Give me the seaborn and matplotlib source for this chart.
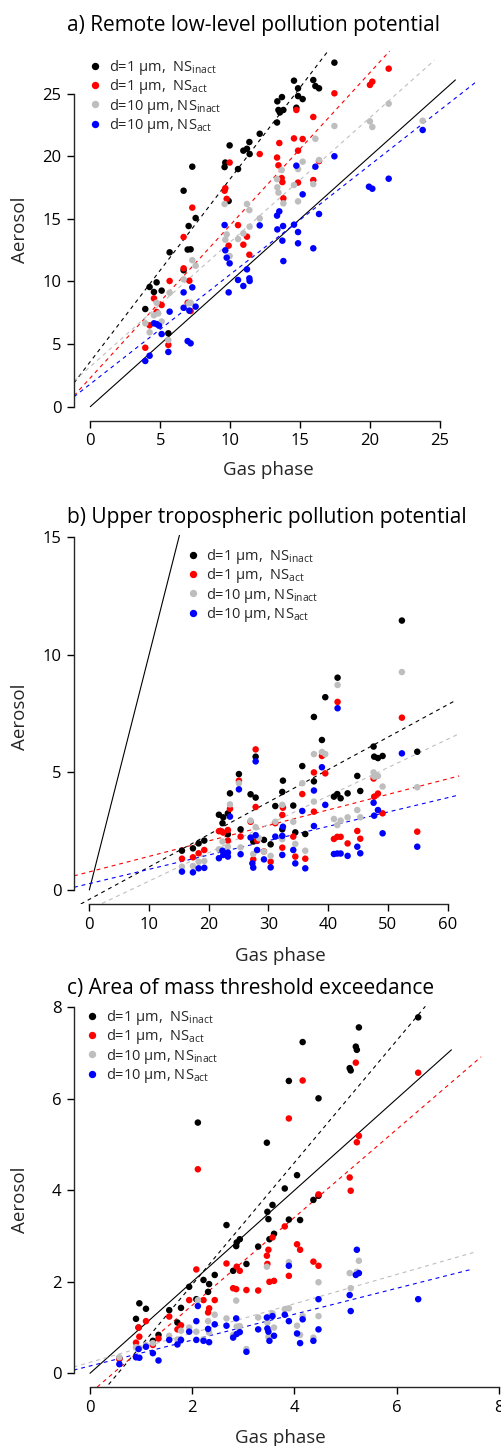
import numpy as np
import pandas as pd
import matplotlib
matplotlib.use("Agg")
import matplotlib.pyplot as plt
import seaborn as sns
from matplotlib.lines import Line2D

# ---------------- data ----------------
SERIES = ["d=1 µm,  NS$_{inact}$", "d=1 µm,  NS$_{act}$",
          "d=10 µm, NS$_{inact}$", "d=10 µm, NS$_{act}$"]
COLORS = ["#000000", "#FF0000", "#BEBEBE", "#0000FF"]

# panel a
A_BLACK_X = [3.93, 4.24, 4.55, 4.74, 5.10, 5.58, 5.67, 6.67, 6.67, 7.03, 6.96, 7.17, 7.29, 7.53, 9.60, 9.65, 9.89, 9.96, 10.56, 10.94, 11.20, 11.37, 11.39, 12.11, 13.35, 13.37, 13.45, 13.55, 13.70, 13.80, 14.56, 14.73, 14.85, 14.85, 15.18, 15.94, 16.09, 16.35, 17.45]
A_BLACK_Y = [7.80, 9.56, 9.16, 9.93, 9.27, 5.86, 12.33, 17.25, 10.90, 14.43, 12.55, 12.57, 19.17, 15.07, 19.14, 19.50, 16.43, 20.87, 18.98, 20.45, 20.60, 21.14, 20.18, 21.80, 22.70, 24.39, 23.70, 23.50, 24.73, 23.70, 26.04, 23.88, 25.43, 24.81, 24.57, 26.09, 25.61, 25.43, 27.48]
A_RED_X = [3.93, 4.24, 4.55, 4.74, 5.10, 5.58, 5.67, 6.67, 6.67, 7.08, 6.96, 7.29, 7.17, 9.60, 9.65, 9.75, 9.96, 9.89, 10.56, 10.94, 11.20, 11.37, 12.11, 13.35, 13.51, 13.45, 13.68, 13.73, 13.80, 14.56, 14.73, 14.85, 14.85, 15.18, 15.94, 15.94, 16.35, 17.45, 19.99, 20.16, 21.33]
A_RED_Y = [4.71, 6.50, 8.65, 7.56, 8.12, 4.93, 10.04, 13.55, 11.05, 10.06, 8.30, 15.90, 7.64, 17.25, 17.45, 16.60, 19.50, 12.86, 14.50, 12.94, 13.58, 12.14, 20.18, 19.90, 21.06, 19.28, 18.26, 17.94, 16.64, 21.43, 23.70, 20.45, 17.90, 21.38, 23.14, 18.10, 19.62, 25.03, 25.70, 25.96, 27.00]
A_GRAY_X = [3.93, 4.24, 4.55, 4.74, 4.86, 5.10, 5.58, 5.67, 6.67, 7.03, 7.17, 7.29, 7.53, 9.60, 9.75, 9.65, 9.96, 10.56, 10.94, 11.20, 11.37, 11.39, 12.11, 13.35, 13.37, 13.45, 13.68, 13.80, 14.56, 14.85, 14.85, 15.18, 15.94, 16.09, 16.35, 17.45, 19.99, 20.16, 21.33, 23.76]
A_GRAY_Y = [6.66, 5.94, 7.30, 8.30, 7.45, 6.80, 5.32, 9.10, 10.17, 8.25, 8.30, 11.70, 11.26, 16.19, 13.76, 13.34, 12.03, 13.39, 13.84, 16.19, 15.70, 14.38, 15.04, 18.18, 17.52, 17.10, 18.90, 16.24, 17.70, 18.98, 16.40, 19.57, 17.78, 21.40, 19.70, 22.42, 22.79, 22.34, 24.20, 22.84]
A_BLUE_X = [3.93, 4.24, 4.55, 4.74, 4.91, 5.10, 5.58, 5.67, 6.67, 6.67, 6.96, 7.17, 7.08, 7.29, 7.53, 9.60, 9.65, 9.75, 9.96, 9.89, 10.56, 10.94, 11.20, 11.37, 11.39, 12.11, 13.35, 13.37, 13.51, 13.73, 13.80, 13.78, 14.56, 14.73, 14.85, 14.85, 15.18, 15.94, 16.09, 16.35, 17.45, 19.92, 20.16, 21.33, 23.76]
A_BLUE_Y = [3.65, 4.07, 6.66, 6.60, 6.47, 5.80, 4.37, 7.59, 9.13, 7.90, 5.24, 5.06, 7.67, 9.53, 7.99, 14.51, 12.49, 11.90, 11.45, 9.13, 10.12, 9.64, 10.97, 10.25, 10.04, 14.48, 15.26, 14.16, 15.60, 13.26, 11.63, 14.43, 14.54, 19.25, 13.95, 13.05, 16.96, 12.65, 19.17, 15.39, 20.00, 17.57, 17.41, 18.21, 22.10]
# fitted lines: intercept, slope, x from, x to
A_FIT_INT = [3.6, 2.3, 3.2, 1.81]
A_FIT_SLOPE = [1.46, 1.22, 0.995, 0.875]
A_FIT_X0 = [-1.17, -1.17, -1.17, -1.17]
A_FIT_X1 = [17.0, 21.4, 24.6, 27.5]
A_ONE_TO_ONE = [0.0, 26.1]

# panel b
B_BLACK_X = [15.51, 17.35, 18.30, 19.25, 21.70, 22.43, 22.30, 23.20, 23.20, 23.55, 25.05, 25.33, 27.00, 27.45, 27.85, 27.85, 29.24, 30.36, 31.14, 32.31, 32.42, 32.31, 34.15, 34.49, 35.66, 36.16, 37.61, 37.61, 38.95, 39.51, 40.96, 41.52, 41.57, 42.08, 43.25, 44.87, 45.37, 47.60, 47.70, 48.33, 49.11, 52.34, 54.91]
B_BLACK_Y = [1.67, 1.77, 1.98, 2.10, 3.20, 3.09, 2.84, 3.26, 2.37, 4.11, 4.93, 2.58, 4.07, 2.06, 3.93, 5.67, 2.13, 1.94, 3.57, 4.17, 4.65, 2.58, 3.59, 2.45, 5.27, 2.38, 4.62, 7.36, 6.38, 8.20, 3.97, 4.08, 9.03, 3.90, 4.11, 4.85, 4.21, 6.10, 5.67, 5.61, 5.70, 11.46, 5.88]
B_RED_X = [15.51, 17.35, 18.30, 19.25, 21.70, 22.10, 22.43, 23.20, 23.20, 23.55, 25.05, 25.33, 27.00, 27.45, 27.85, 27.85, 28.10, 29.24, 30.36, 31.14, 32.31, 32.42, 32.31, 34.15, 34.49, 35.66, 36.16, 37.61, 37.61, 38.95, 39.51, 40.96, 41.52, 41.57, 42.08, 43.25, 44.87, 45.37, 47.60, 47.70, 48.33, 49.11, 52.34, 54.91]
B_RED_Y = [1.33, 1.39, 1.56, 1.70, 2.50, 2.50, 2.44, 2.55, 2.10, 3.45, 4.65, 2.27, 2.90, 1.30, 5.98, 3.53, 2.10, 1.64, 1.20, 2.84, 3.19, 3.50, 1.80, 2.27, 1.42, 4.08, 1.33, 5.00, 3.33, 5.70, 4.96, 2.17, 2.26, 8.00, 2.26, 1.98, 2.51, 2.18, 4.74, 3.97, 4.10, 3.26, 7.33, 2.48]
B_GRAY_X = [15.51, 17.35, 18.30, 19.25, 21.70, 22.30, 23.20, 23.55, 25.05, 25.33, 27.00, 27.45, 27.85, 28.40, 29.24, 30.36, 31.14, 32.31, 32.31, 34.15, 34.49, 35.66, 36.16, 37.61, 37.61, 38.95, 39.51, 40.96, 41.52, 41.57, 42.08, 43.25, 44.87, 45.37, 47.60, 47.70, 48.33, 49.11, 52.34, 54.91]
B_GRAY_Y = [0.99, 1.02, 1.20, 1.23, 1.73, 2.06, 1.84, 3.64, 4.54, 1.81, 2.95, 1.53, 2.67, 2.20, 1.63, 1.45, 2.90, 3.62, 2.16, 2.90, 1.96, 4.54, 1.67, 5.78, 3.76, 5.87, 5.78, 3.02, 2.76, 8.72, 2.95, 3.09, 3.40, 3.09, 5.00, 4.82, 4.85, 4.40, 9.27, 4.37]
B_BLUE_X = [15.51, 17.35, 18.30, 19.25, 21.70, 22.30, 22.43, 23.20, 23.20, 23.55, 25.05, 25.33, 27.00, 27.30, 27.45, 27.85, 27.85, 28.10, 29.24, 30.36, 31.14, 32.31, 32.42, 32.31, 34.15, 34.49, 35.66, 36.16, 37.61, 37.61, 38.95, 39.51, 40.96, 41.52, 42.08, 41.57, 43.25, 44.87, 45.37, 47.60, 47.70, 48.33, 49.11, 52.34, 54.91]
B_BLUE_Y = [0.78, 0.75, 0.92, 0.94, 1.35, 1.67, 1.49, 1.59, 1.42, 3.12, 4.28, 1.52, 2.23, 1.13, 0.95, 5.47, 2.33, 1.70, 1.30, 0.96, 2.27, 2.30, 2.69, 1.49, 1.70, 1.13, 3.36, 0.92, 4.23, 2.72, 5.22, 3.62, 1.53, 1.55, 1.55, 7.73, 1.45, 1.84, 1.56, 3.71, 3.16, 3.40, 2.41, 5.81, 1.84]
B_FIT_INT = [-0.40, 0.77, -0.83, 0.27]
B_FIT_SLOPE = [0.138, 0.0659, 0.1207, 0.0609]
B_FIT_X0 = [-2.57, -2.57, -2.57, -2.57]
B_FIT_X1 = [61.05, 61.94, 62.05, 61.94]
B_ONE_TO_ONE = [0.0, 15.2]

# panel c
C_BLACK_X = [0.574, 0.90, 0.965, 0.95, 1.095, 1.23, 1.34, 1.55, 1.71, 1.78, 1.94, 2.11, 2.08, 2.22, 2.31, 2.33, 2.44, 2.67, 2.80, 2.86, 2.87, 2.93, 3.06, 3.29, 3.46, 3.47, 3.49, 3.51, 3.57, 3.60, 3.81, 3.89, 3.89, 4.05, 4.11, 4.16, 4.37, 4.47, 4.47, 5.08, 5.10, 5.20, 5.22, 5.26, 6.42]
C_BLACK_Y = [0.33, 1.19, 1.53, 1.00, 1.41, 0.71, 0.84, 1.38, 1.11, 1.43, 1.89, 5.48, 1.62, 2.04, 1.78, 1.95, 2.15, 3.24, 2.24, 2.78, 2.86, 2.93, 2.39, 2.77, 5.04, 3.53, 3.37, 2.93, 3.68, 3.05, 4.04, 3.36, 6.39, 4.33, 3.35, 7.24, 3.79, 3.88, 6.01, 6.67, 6.62, 7.14, 7.07, 7.56, 7.78]
C_RED_X = [0.574, 0.90, 0.95, 0.965, 1.095, 1.23, 1.34, 1.55, 1.71, 1.78, 1.94, 2.08, 2.11, 2.22, 2.31, 2.33, 2.44, 2.67, 2.80, 2.86, 2.87, 2.93, 3.06, 3.29, 3.46, 3.47, 3.49, 3.51, 3.57, 3.60, 3.81, 3.89, 3.89, 4.05, 4.11, 4.16, 4.37, 4.47, 4.47, 5.08, 5.10, 5.20, 5.22, 5.26, 6.42]
C_RED_Y = [0.31, 0.67, 1.00, 0.80, 1.14, 0.62, 0.76, 1.24, 0.96, 1.05, 1.60, 2.27, 4.46, 1.60, 1.33, 1.42, 1.60, 2.40, 1.86, 1.84, 2.33, 2.24, 1.82, 1.81, 2.57, 2.39, 2.70, 2.00, 2.97, 2.02, 3.21, 5.57, 2.13, 2.82, 2.70, 6.40, 2.44, 3.91, 2.35, 4.28, 3.99, 6.79, 5.05, 5.19, 6.57]
C_GRAY_X = [0.574, 0.90, 0.965, 1.095, 1.23, 1.55, 1.71, 1.78, 1.94, 2.08, 2.11, 2.22, 2.31, 2.33, 2.44, 2.67, 2.80, 2.86, 2.87, 2.93, 3.06, 3.29, 3.46, 3.47, 3.49, 3.51, 3.57, 3.60, 3.81, 3.89, 3.89, 4.05, 4.11, 4.16, 4.37, 4.47, 4.47, 5.08, 5.10, 5.22, 5.26]
C_GRAY_Y = [0.35, 0.57, 0.55, 0.62, 0.66, 0.82, 0.74, 0.93, 1.00, 0.91, 1.60, 0.74, 1.14, 0.89, 1.28, 1.20, 0.84, 1.59, 1.02, 1.03, 0.53, 1.22, 2.33, 1.11, 0.80, 1.24, 1.31, 1.00, 1.40, 2.43, 1.42, 1.04, 0.84, 1.25, 0.78, 1.99, 1.25, 2.19, 1.86, 2.22, 2.46]
C_BLUE_X = [0.574, 0.90, 0.95, 0.965, 1.095, 1.23, 1.34, 1.55, 1.71, 1.78, 1.94, 2.08, 2.11, 2.08, 2.22, 2.31, 2.33, 2.44, 2.67, 2.80, 2.86, 2.87, 2.93, 3.06, 3.29, 3.46, 3.47, 3.49, 3.51, 3.57, 3.60, 3.81, 3.89, 3.89, 4.05, 4.11, 4.16, 4.37, 4.47, 4.47, 5.08, 5.10, 5.20, 5.22, 5.26, 6.42]
C_BLUE_Y = [0.20, 0.35, 0.53, 0.34, 0.58, 0.44, 0.28, 0.73, 0.63, 0.73, 0.91, 1.14, 1.47, 0.73, 0.71, 0.97, 0.68, 1.07, 1.04, 0.78, 1.20, 0.86, 0.90, 0.47, 0.96, 1.22, 0.98, 0.91, 0.71, 1.25, 0.82, 1.28, 2.35, 1.14, 0.87, 0.66, 1.18, 0.71, 1.62, 0.96, 1.71, 1.36, 2.15, 2.70, 2.19, 1.62]
C_FIT_INT = [-0.73, -0.435, 0.24, 0.16]
C_FIT_SLOPE = [1.334, 0.961, 0.32, 0.283]
C_FIT_X0 = [-0.32, -0.32, -0.32, -0.32]
C_FIT_X1 = [6.56, 7.65, 7.50, 7.46]
C_ONE_TO_ONE = [0.0, 7.07]

TITLES = ["a) Remote low-level pollution potential",
          "b) Upper tropospheric pollution potential",
          "c) Area of mass threshold exceedance"]
XLABEL = "Gas phase"
YLABEL = "Aerosol"
A_TICKS = [0, 5, 10, 15, 20, 25]
B_XTICKS = [0, 10, 20, 30, 40, 50, 60]
B_YTICKS = [0, 5, 10, 15]
C_TICKS = [0, 2, 4, 6, 8]

# ---------------- style ----------------
sns.set_theme(style="ticks")
plt.rcParams["font.family"] = ["Open Sans", "DejaVu Sans"]
plt.rcParams["mathtext.default"] = "regular"
plt.rcParams["axes.linewidth"] = 1.0

W, H = 501, 1446
fig = plt.figure(figsize=(W / 100, H / 100), dpi=100)


def axes_px(l, r, t, b):
    return fig.add_axes([l / W, 1 - b / H, (r - l) / W, (b - t) / H])


def make_df(xs, ys):
    frames = []
    for name, x, y in zip(SERIES, xs, ys):
        frames.append(pd.DataFrame({"gas": x, "aerosol": y, "series": name}))
    return pd.concat(frames, ignore_index=True)


panels = [
    dict(box=(74, 475, 49, 420.7), xlim=(-1.165, 27.5), ylim=(-1.12, 28.57),
         xt=A_TICKS, yt=A_TICKS,
         xs=[A_BLACK_X, A_RED_X, A_GRAY_X, A_BLUE_X], ys=[A_BLACK_Y, A_RED_Y, A_GRAY_Y, A_BLUE_Y],
         fit=(A_FIT_INT, A_FIT_SLOPE, A_FIT_X0, A_FIT_X1), one=A_ONE_TO_ONE,
         title_y=31, leg=(89, 58), xlab=(268, 470), ylab=(20, 230)),
    dict(box=(74, 460, 535, 904.3), xlim=(-2.567, 62.07), ylim=(-0.61, 15.1),
         xt=B_XTICKS, yt=B_YTICKS,
         xs=[B_BLACK_X, B_RED_X, B_GRAY_X, B_BLUE_X], ys=[B_BLACK_Y, B_RED_Y, B_GRAY_Y, B_BLUE_Y],
         fit=(B_FIT_INT, B_FIT_SLOPE, B_FIT_X0, B_FIT_X1), one=B_ONE_TO_ONE,
         title_y=522.5, leg=(186.5, 547), xlab=(280, 956), ylab=(20, 717)),
    dict(box=(74, 501, 1005, 1387.3), xlim=(-0.313, 8.04), ylim=(-0.306, 8.05),
         xt=C_TICKS, yt=C_TICKS,
         xs=[C_BLACK_X, C_RED_X, C_GRAY_X, C_BLUE_X], ys=[C_BLACK_Y, C_RED_Y, C_GRAY_Y, C_BLUE_Y],
         fit=(C_FIT_INT, C_FIT_SLOPE, C_FIT_X0, C_FIT_X1), one=C_ONE_TO_ONE,
         title_y=994, leg=(86, 1008), xlab=(280, 1438), ylab=(20, 1200)),
]

for i, p in enumerate(panels):
    l, r, t, b = p["box"]
    ax = axes_px(l, r, t, b)
    df = make_df(p["xs"], p["ys"])
    sns.scatterplot(data=df, x="gas", y="aerosol", hue="series", hue_order=SERIES,
                    palette=COLORS, s=22, linewidth=0, legend=False, ax=ax, zorder=3)
    # 1:1 line
    one = np.array(p["one"])
    ax.plot(one, one, color="black", lw=0.8, zorder=2)
    # regression lines
    ints, slopes, x0s, x1s = p["fit"]
    for c, a0, a1, xa, xb in zip(COLORS, ints, slopes, x0s, x1s):
        xx = np.array([xa, xb])
        ax.plot(xx, a0 + a1 * xx, color=c, lw=0.8, ls=(0, (3.5, 3.5)), zorder=2)

    ax.set_xlim(*p["xlim"])
    ax.set_ylim(*p["ylim"])
    ax.set_xticks(p["xt"])
    ax.set_yticks(p["yt"])
    for s in ["top", "right"]:
        ax.spines[s].set_visible(False)
    ax.spines["left"].set_bounds(p["yt"][0], p["yt"][-1])
    ax.spines["bottom"].set_bounds(p["xt"][0], p["xt"][-1])
    ax.tick_params(direction="out", length=5, width=1.0, labelsize=12, pad=4,
                   colors="black")
    ax.set_facecolor("white")
    ax.grid(False)

    ax.set_xlabel(XLABEL, fontsize=13.5)
    ax.set_ylabel(YLABEL, fontsize=13.5)
    ax.xaxis.label.set_va("center")
    ax.yaxis.label.set_va("center")
    ax.yaxis.label.set_ha("center")
    xl, yl = p["xlab"]
    ax.xaxis.set_label_coords((xl - l) / (r - l), (b - yl) / (b - t))
    xl, yl = p["ylab"]
    ax.yaxis.set_label_coords((xl - l) / (r - l), (b - yl) / (b - t))

    handles = [Line2D([], [], ls="", marker="o", markersize=5.3, color=c,
                      markeredgewidth=0) for c in COLORS]
    lx, ly = p["leg"]
    ax.legend(handles, SERIES, loc="upper left", bbox_to_anchor=(lx / W, 1 - ly / H),
              bbox_transform=fig.transFigure, frameon=False, borderpad=0,
              borderaxespad=0, handlelength=0.85, handletextpad=0.5,
              labelspacing=0.02, fontsize=10.5)

    fig.text(67 / W, 1 - p["title_y"] / H, TITLES[i], ha="left", va="baseline",
             fontsize=15, color="black")

fig.savefig("out.png", dpi=100, facecolor="white")
